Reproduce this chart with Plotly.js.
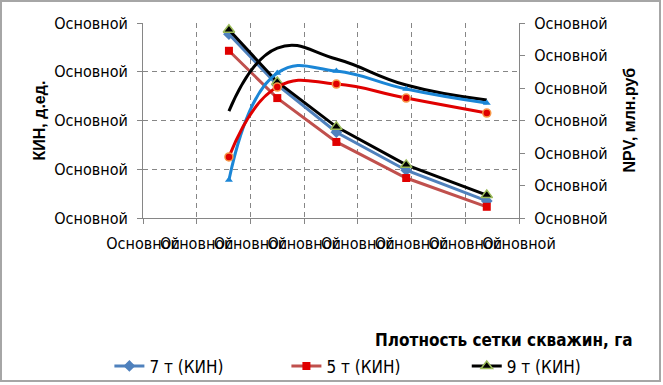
<!DOCTYPE html>
<html>
<head>
<meta charset="utf-8">
<script src="https://cdn.plot.ly/plotly-3.0.1.min.js"></script>
<style>
  html, body { margin: 0; padding: 0; background: #ffffff; }
  #wrap { position: relative; width: 663px; height: 385px; }
  #chart { width: 663px; height: 385px; }
  #frame { position: absolute; left: 0; top: 0; width: 661px; height: 382px; box-sizing: border-box; border: 2px solid #a6a6a6; pointer-events: none; }
</style>
</head>
<body>
<div id="wrap"><div id="chart"></div><div id="frame"></div></div>
<script>
// Data
const xDensity = [8, 12.5, 18, 24.5, 32];
const kin7 = [0.377, 0.273, 0.176, 0.098, 0.035];
const kin5 = [0.343, 0.246, 0.156, 0.082, 0.023];
const kin9 = [0.386, 0.279, 0.187, 0.109, 0.047];
const npv7 = [117, 446, 452, 397, 354];
const npv5 = [188, 403, 412, 369, 323];
const npv9 = [329, 523, 489, 409, 363];

const seriesNames = ["7 т (КИН)", "5 т (КИН)", "9 т (КИН)", "7 т (NPV)", "5 т (NPV)", "9 т (NPV)"];
const xTickVals = [0, 5, 10, 15, 20, 25, 30, 35];
const yTickVals = [0, 0.1, 0.2, 0.3, 0.4];
const y2TickVals = [0, 100, 200, 300, 400, 500, 600];
const tickLabel = "Основной";

const narrow = '"Liberation Sans Narrow", "DejaVu Sans Condensed", Arial, sans-serif';
const regular = '"Liberation Sans", Arial, sans-serif';

const traces = [
  { x: xDensity, y: kin7, yaxis: 'y', mode: 'lines+markers', name: seriesNames[0], legend: 'legend',
    line: { color: '#4f81bd', width: 3 },
    marker: { symbol: 'diamond', size: 9, color: '#4f81bd' } },
  { x: xDensity, y: kin5, yaxis: 'y', mode: 'lines+markers', name: seriesNames[1], legend: 'legend2',
    line: { color: '#c0504d', width: 3 },
    marker: { symbol: 'square', size: 8, color: '#e00000' } },
  { x: xDensity, y: kin9, yaxis: 'y', mode: 'lines+markers', name: seriesNames[2], legend: 'legend3',
    line: { color: '#000000', width: 3 },
    marker: { symbol: 'triangle-up', size: 10, color: '#000000', line: { color: '#9bbb59', width: 1.5 } } },
  { x: xDensity, y: npv9, yaxis: 'y2', mode: 'lines', name: seriesNames[5], showlegend: false,
    line: { color: '#000000', width: 3, shape: 'spline', smoothing: 1.3 } },
  { x: xDensity, y: npv7, yaxis: 'y2', mode: 'lines+markers', name: seriesNames[3], showlegend: false,
    line: { color: '#1b86d6', width: 3, shape: 'spline', smoothing: 1.3 },
    marker: { symbol: 'triangle-up', size: 7, color: '#1b86d6' } },
  { x: xDensity, y: npv5, yaxis: 'y2', mode: 'lines+markers', name: seriesNames[4], showlegend: false,
    line: { color: '#e00000', width: 3, shape: 'spline', smoothing: 1.3 },
    marker: { symbol: 'circle', size: 8, color: '#e00000', line: { color: '#f79646', width: 1.5 } } }
];

const axisCommon = {
  showline: true, linecolor: '#868686', linewidth: 1,
  ticks: 'outside', ticklen: 5, tickcolor: '#868686',
  zeroline: false, automargin: false,
  tickfont: { family: narrow, size: 16, color: '#000000' }
};

function legendAt(xc) {
  return {
    orientation: 'h', xref: 'container', yref: 'container',
    x: xc, xanchor: 'left', y: 0.095, yanchor: 'top',
    font: { family: narrow, size: 17, color: '#000000' },
    bgcolor: 'rgba(0,0,0,0)'
  };
}

const layout = {
  width: 663, height: 385,
  margin: { l: 143, r: 144, t: 23, b: 167, pad: 0 },
  paper_bgcolor: '#ffffff', plot_bgcolor: '#ffffff',
  showlegend: true,
  legend: legendAt(0.165),
  legend2: legendAt(0.432),
  legend3: legendAt(0.704),
  xaxis: Object.assign({}, axisCommon, {
    range: [0, 35], tickmode: 'array', tickvals: xTickVals,
    ticktext: xTickVals.map(() => tickLabel), tickangle: 0,
    showgrid: true, gridcolor: '#868686', griddash: '5px,4px', gridwidth: 1,
    ticklabelstandoff: 6
  }),
  yaxis: Object.assign({}, axisCommon, {
    range: [0, 0.4], tickmode: 'array', tickvals: yTickVals,
    ticktext: yTickVals.map(() => tickLabel),
    showgrid: true, gridcolor: '#868686', griddash: '5px,4px', gridwidth: 1,
    ticklabelstandoff: 6
  }),
  yaxis2: Object.assign({}, axisCommon, {
    overlaying: 'y', side: 'right', anchor: 'x',
    range: [0, 600], tickmode: 'array', tickvals: y2TickVals,
    ticktext: y2TickVals.map(() => tickLabel),
    showgrid: false, ticklabelstandoff: 6
  }),
  annotations: [
    { text: 'КИН, д.ед.', xref: 'paper', yref: 'paper', x: -0.274, y: 0.5,
      xanchor: 'center', yanchor: 'middle', textangle: -90, showarrow: false,
      font: { family: regular, size: 16, color: '#000000', weight: 'bold' } },
    { text: 'NPV, млн.руб', xref: 'paper', yref: 'paper', x: 1.2926, y: 0.5,
      xanchor: 'center', yanchor: 'middle', textangle: -90, showarrow: false,
      font: { family: regular, size: 16, color: '#000000', weight: 'bold' } },
    { text: 'Плотность сетки скважин, га', xref: 'paper', yref: 'paper', x: 1.3085, y: -0.626,
      xanchor: 'right', yanchor: 'middle', showarrow: false,
      font: { family: narrow, size: 17, color: '#000000', weight: 'bold' } }
  ]
};

Plotly.newPlot('chart', traces, layout, { displayModeBar: false, staticPlot: true });
</script>
</body>
</html>
